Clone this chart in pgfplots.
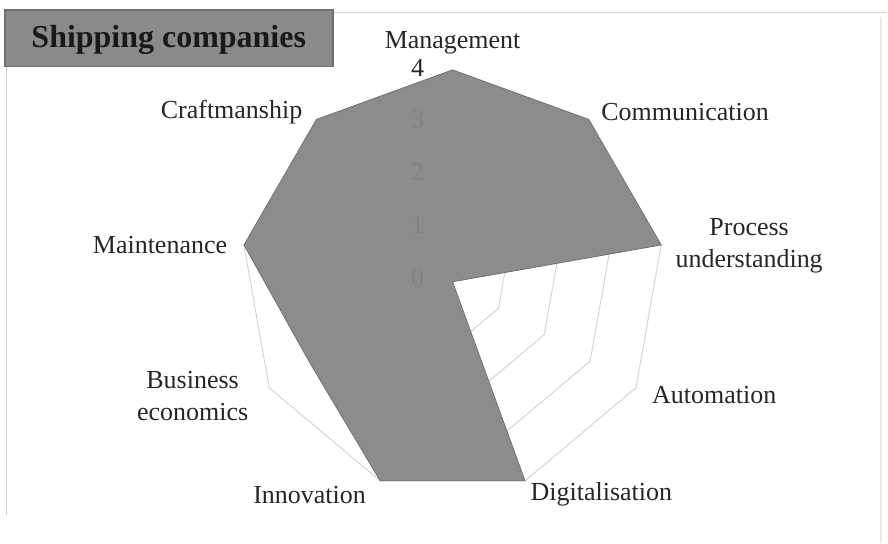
\documentclass[border=0pt]{standalone}
\usepackage{pgfplots}
\pgfplotsset{compat=1.18}
\usepackage{fontspec}
\setmainfont{Liberation Serif}
\definecolor{ringgray}{HTML}{D6D6D6}
\definecolor{areagray}{HTML}{8C8C8C}
\definecolor{boxgray}{HTML}{8A8A8A}
\definecolor{boxedge}{HTML}{6E6E6E}
\definecolor{framegray}{HTML}{D2D2D2}

\begin{document}
\begin{tikzpicture}[lbl/.style={font=\fontsize{19.5}{24}\selectfont, text=black!85}]
\begin{axis}[
    width=666pt, height=408pt, scale only axis,
    xmin=-8.547, xmax=8.208,
    ymin=-4.943, ymax=5.321,
    hide axis,
    clip=false,
]
\path (rel axis cs:0,0) rectangle (rel axis cs:1,1);

% frame and title box
\draw[framegray, line width=1pt] (axis cs:-2.26,5.08) -- (axis cs:8.21,5.08);
\draw[framegray, line width=1pt] (axis cs:-8.43,4.06) -- (axis cs:-8.43,-4.4);
\draw[framegray!50, line width=0.8pt] (axis cs:8.09,5.0) -- (axis cs:8.09,-4.94);
\draw[fill=boxgray, draw=boxedge, line width=1pt] (axis cs:-8.45,5.13) rectangle (axis cs:-2.26,4.06);
\node[font=\fontsize{24}{28}\selectfont\bfseries, text=black!90] at (axis cs:-5.36,4.57) {Shipping companies};

% grid rings
\addplot[ringgray, line width=0.8pt, data cs=polar] coordinates {(90,1) (50,1) (10,1) (330,1) (290,1) (250,1) (210,1) (170,1) (130,1) (90,1)};
\addplot[ringgray, line width=0.8pt, data cs=polar] coordinates {(90,2) (50,2) (10,2) (330,2) (290,2) (250,2) (210,2) (170,2) (130,2) (90,2)};
\addplot[ringgray, line width=0.8pt, data cs=polar] coordinates {(90,3) (50,3) (10,3) (330,3) (290,3) (250,3) (210,3) (170,3) (130,3) (90,3)};
\addplot[ringgray, line width=0.8pt, data cs=polar] coordinates {(90,4) (50,4) (10,4) (330,4) (290,4) (250,4) (210,4) (170,4) (130,4) (90,4)};

% data
\addplot[fill=areagray, draw=black!55, line width=0.6pt, data cs=polar] coordinates {
    (90,4)   % Management
    (50,4)   % Communication
    (10,4)   % Process understanding
    (330,0)  % Automation
    (290,4)  % Digitalisation
    (250,4)  % Innovation
    (210,3.1)% Business economics
    (170,4)  % Maintenance
    (130,4)  % Craftmanship
    (90,4)
};

% radial tick labels (barely visible on the fill)
\node[lbl] at (axis cs:-0.66,4.03) {4};
\node[lbl, text=black!49] at (axis cs:-0.66,3.08) {3};
\node[lbl, text=black!49] at (axis cs:-0.66,2.08) {2};
\node[lbl, text=black!49] at (axis cs:-0.66,1.08) {1};
\node[lbl, text=black!49] at (axis cs:-0.66,0.08) {0};

% category labels
\node[lbl] at (axis cs:0,4.51) {Management};
\node[lbl, anchor=west] at (axis cs:2.72,3.21) {Communication};
\node[lbl, align=center] at (axis cs:5.60,0.68) {Process\\understanding};
\node[lbl, anchor=west] at (axis cs:3.68,-2.13) {Automation};
\node[lbl] at (axis cs:2.81,-4.02) {Digitalisation};
\node[lbl] at (axis cs:-2.70,-4.02) {Innovation};
\node[lbl, align=center] at (axis cs:-4.91,-2.15) {Business\\economics};
\node[lbl, anchor=east] at (axis cs:-4.17,0.70) {Maintenance};
\node[lbl, anchor=east] at (axis cs:-2.75,3.21) {Craftmanship};
\end{axis}
\end{tikzpicture}
\end{document}
